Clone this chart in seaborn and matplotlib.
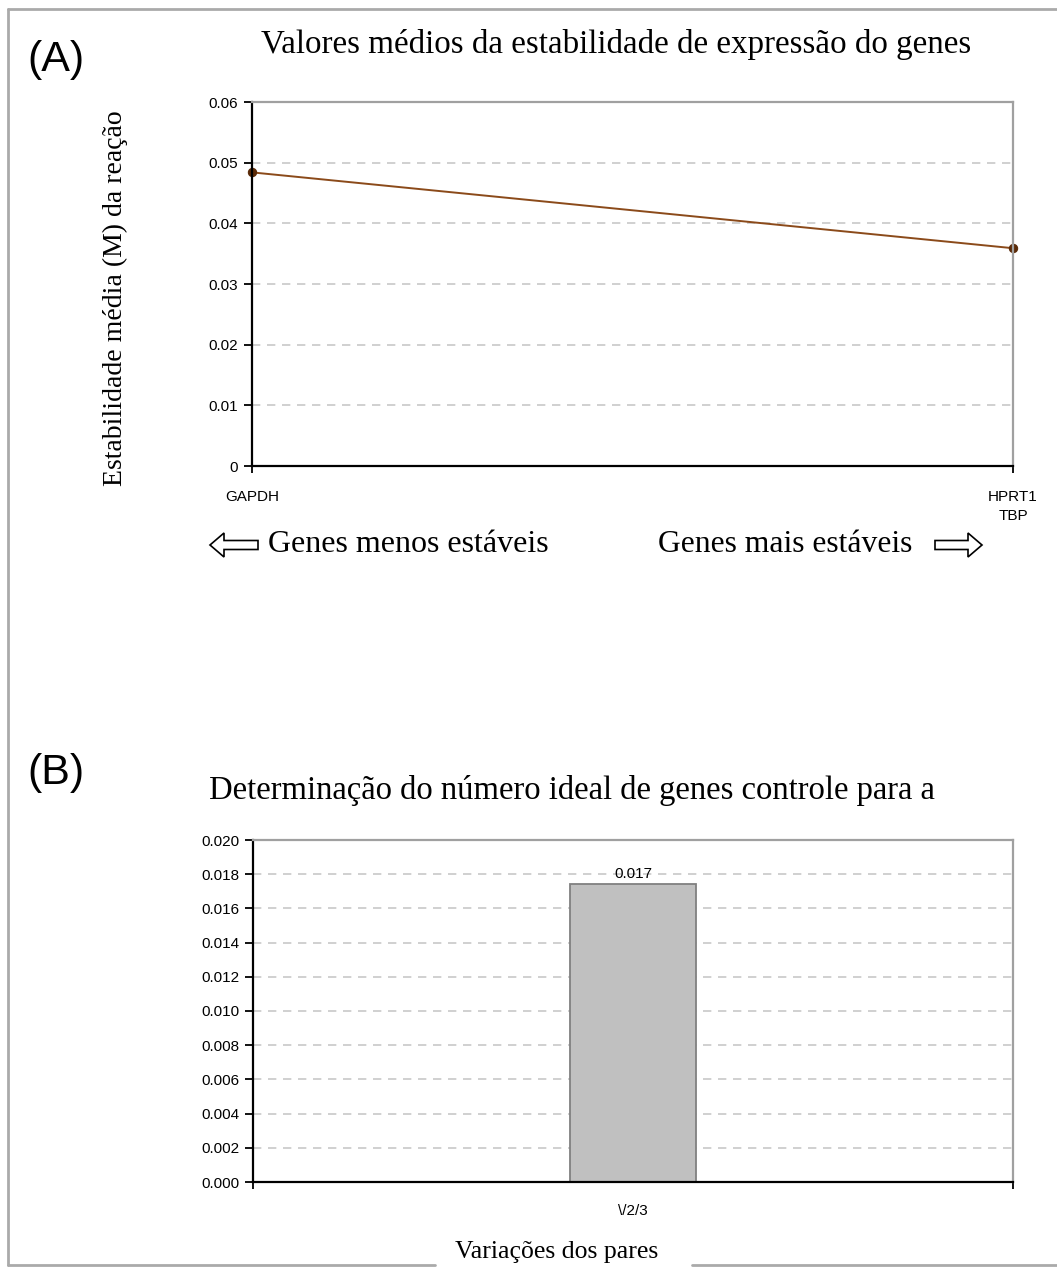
import numpy as np
import pandas as pd
import seaborn as sns
import matplotlib.pyplot as plt
from matplotlib.patches import FancyArrow
from matplotlib.lines import Line2D

# dados do grafico (A)
genes = ["GAPDH", "HPRT1\nTBP"]
estabilidade_m = [0.0484, 0.0359]
ticks_a = [0, 0.01, 0.02, 0.03, 0.04, 0.05, 0.06]

# dados do grafico (B)
pares = ["\\/2/3"]
variacao_v = [0.0174]
rotulo_barra = ["0.017"]
ticks_b = [0.000, 0.002, 0.004, 0.006, 0.008, 0.010, 0.012, 0.014, 0.016, 0.018, 0.020]

sns.set_theme(style="white")
plt.rcParams['font.family'] = ['Liberation Sans', 'DejaVu Sans']
plt.rcParams['text.color'] = 'black'
plt.rcParams['axes.labelcolor'] = 'black'
plt.rcParams['xtick.color'] = 'black'
plt.rcParams['ytick.color'] = 'black'

W, H = 1057, 1275
fig = plt.figure(figsize=(W / 100, H / 100), dpi=100)

def px(x0, y0, x1, y1):
    # converte caixa em pixels (topo-esquerda) para fracao da figura
    return [x0 / W, 1 - y1 / H, (x1 - x0) / W, (y1 - y0) / H]

def estilo_eixo(ax):
    for s in ["left", "bottom"]:
        ax.spines[s].set_color("black")
        ax.spines[s].set_linewidth(1.6)
    for s in ["top", "right"]:
        ax.spines[s].set_color("#a0a0a0")
        ax.spines[s].set_linewidth(1.6)
    ax.tick_params(axis="y", which="major", direction="out", length=6, width=1.3,
                   color="black", left=True, labelsize=11, pad=4)
    ax.tick_params(axis="x", which="major", direction="inout", length=10, width=1.3,
                   color="black", bottom=True, labelsize=11, pad=12)
    ax.yaxis.grid(True, linestyle=(0, (5, 4)), color="#c8c8c8", linewidth=1.2)
    ax.xaxis.grid(False)
    ax.set_axisbelow(True)

# ---------------- (A) ----------------
axA = fig.add_axes(px(252, 102, 1013, 466))
df_a = pd.DataFrame({"pos": np.arange(len(genes)), "M": estabilidade_m})
sns.lineplot(data=df_a, x="pos", y="M", ax=axA, color="#8b4a1a", linewidth=1.4,
             marker="o", markersize=6, markerfacecolor="#5a2a08",
             markeredgecolor="#5a2a08", clip_on=False)
axA.set_xlim(0, len(genes) - 1)
axA.set_ylim(0, 0.06)
axA.set_yticks(ticks_a)
axA.set_yticklabels(["0", "0.01", "0.02", "0.03", "0.04", "0.05", "0.06"])
axA.set_xticks(df_a["pos"])
axA.set_xticklabels(genes, linespacing=1.5)
estilo_eixo(axA)
axA.set_xlabel("")
axA.set_ylabel("Estabilidade média (M) da reação", family="Liberation Serif",
               fontsize=20)
axA.yaxis.set_label_coords(-0.163, 0.46)

fig.text(616 / W, 1 - 45 / H, "Valores médios da estabilidade de expressão do genes",
         family="Liberation Serif", fontsize=23.8, ha="center", va="center")
fig.text(27 / W, 1 - 60 / H, "(A)", fontsize=31, ha="left", va="center")

fig.text(268 / W, 1 - 545 / H, "Genes menos estáveis", family="Liberation Serif",
         fontsize=23, ha="left", va="center")
fig.text(912 / W, 1 - 545 / H, "Genes mais estáveis", family="Liberation Serif",
         fontsize=22.8, ha="right", va="center")

def seta(x0, x1, y):
    fig.patches.append(FancyArrow(x0 / W, 1 - y / H, (x1 - x0) / W, 0,
                                  width=9 / H, head_width=24 / H, head_length=14 / W,
                                  length_includes_head=True, facecolor="white",
                                  edgecolor="black", linewidth=1.2,
                                  transform=fig.transFigure, figure=fig))

seta(258, 210, 545)
seta(935, 982, 545)

# ---------------- (B) ----------------
axB = fig.add_axes(px(253, 840, 1013, 1182))
df_b = pd.DataFrame({"par": pares, "V": variacao_v})
sns.barplot(data=df_b, x="par", y="V", ax=axB, color="#c0c0c0", saturation=1,
            width=0.167, edgecolor="#808080", linewidth=1.3)
axB.set_xlim(-0.5, 0.5)
axB.set_ylim(0, 0.02)
axB.set_yticks(ticks_b)
axB.set_yticklabels([f"{t:.3f}" for t in ticks_b])
estilo_eixo(axB)
axB.tick_params(axis="x", length=0, pad=16)
axB.set_xticks([-0.5, 0, 0.5], minor=True)
axB.tick_params(axis="x", which="minor", direction="inout", length=10, width=1.3,
                color="black", bottom=True)
axB.set_xlabel("")
axB.set_ylabel("")
for i, r in enumerate(rotulo_barra):
    axB.text(i, variacao_v[i] + 0.0002, r, ha="center", va="bottom", fontsize=11)

fig.text(572 / W, 1 - 790 / H, "Determinação do número ideal de genes controle para a",
         family="Liberation Serif", fontsize=23.5, ha="center", va="center")
fig.text(27 / W, 1 - 773 / H, "(B)", fontsize=31, ha="left", va="center")
fig.text(557 / W, 1 - 1252 / H, "Variações dos pares", family="Liberation Serif",
         fontsize=18.5, ha="center", va="center")

# moldura externa cinza, interrompida embaixo pelo texto
borda = dict(color="#aaaaaa", linewidth=2, transform=fig.transFigure)
yb, yt, xl = 1 - 1265 / H, 1 - 9 / H, 8 / W
fig.lines.append(Line2D([xl, xl], [yb, yt], **borda))
fig.lines.append(Line2D([xl, 1.0], [yt, yt], **borda))
fig.lines.append(Line2D([xl, 435 / W], [yb, yb], **borda))
fig.lines.append(Line2D([692 / W, 1.0], [yb, yb], **borda))

fig.savefig("out.png", dpi=100, facecolor="white")
